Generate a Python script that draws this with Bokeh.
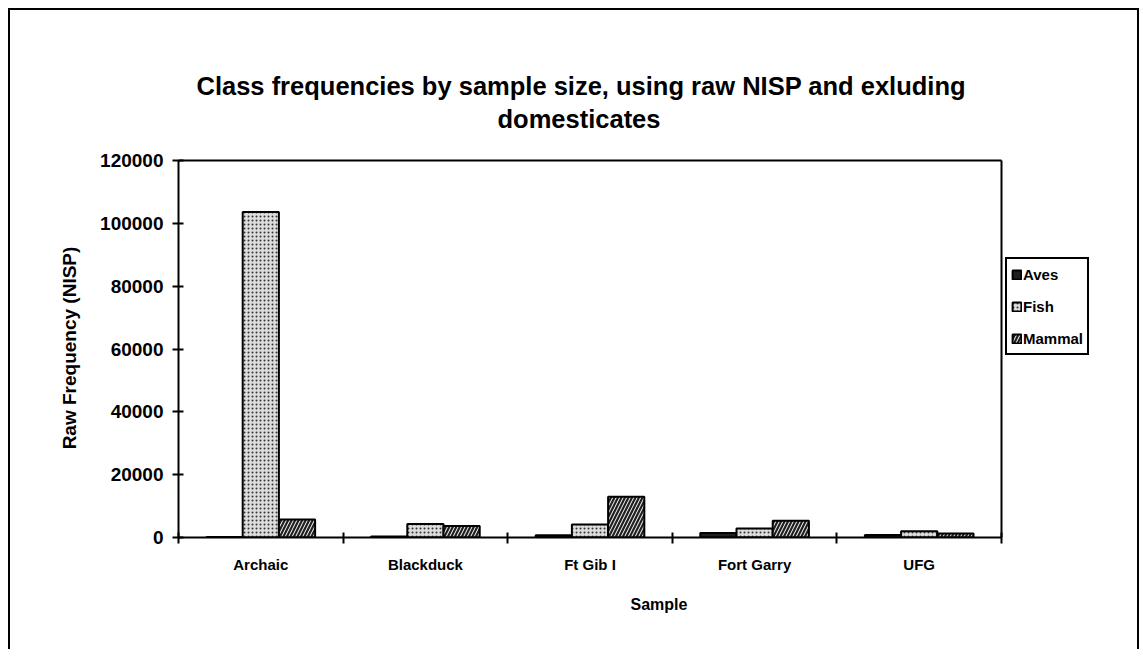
from bokeh.plotting import figure
from bokeh.models import ColumnDataSource, FixedTicker, Legend, LegendItem, Title, Range1d
from bokeh.transform import dodge
from bokeh.embed import file_html
from bokeh.resources import INLINE

samples = ["Archaic", "Blackduck", "Ft Gib I", "Fort Garry", "UFG"]
aves = [150, 300, 700, 1400, 800]
fish = [103600, 4300, 4100, 2900, 2000]
mammal = [5700, 3700, 13000, 5300, 1300]
y_ticks = [0, 20000, 40000, 60000, 80000, 100000, 120000]
y_max = 120000

FONT = "Liberation Sans"

n = len(samples)
xc = [i + 0.5 for i in range(n)]
src = ColumnDataSource(dict(x=xc, aves=aves, fish=fish, mammal=mammal))

W, H = 1131, 641
left, right_pad, top, bottom = 168, 2, 148, 114
plot_px_w = 823          # width of the drawn plot area in px
plot_px_h = 377          # height of the drawn plot area in px
frame_w = W - left - right_pad
frame_h = H - top - bottom
x_end = n * frame_w / plot_px_w
y_end = y_max * frame_h / plot_px_h

p = figure(width=W, height=H, x_range=Range1d(0, x_end), y_range=Range1d(0, y_end),
           output_backend="svg", toolbar_location=None, title=None,
           min_border_left=left, min_border_right=right_pad, min_border_top=top,
           min_border_bottom=bottom)
p.styles = {"margin-left": "8px", "margin-top": "8px",
            "border-top": "2px solid black", "border-left": "2px solid black",
            "border-right": "2px solid black"}

bw = 0.22
r_aves = p.vbar(x=dodge("x", -bw, range=p.x_range), top="aves", width=bw, source=src,
                fill_color="#1e1e1e", line_color="black", line_width=2)
r_fish = p.vbar(x=dodge("x", 0, range=p.x_range), top="fish", width=bw, source=src,
                fill_color="#dcdcdc", line_color="black", line_width=2,
                hatch_pattern="dot", hatch_color="#333333", hatch_scale=4, hatch_weight=1.2)
r_mammal = p.vbar(x=dodge("x", bw, range=p.x_range), top="mammal", width=bw, source=src,
                  fill_color="#202020", line_color="black", line_width=2,
                  hatch_pattern="right_diagonal_line", hatch_color="white", hatch_scale=7,
                  hatch_weight=1.0)

# plot-area border (top and right)
p.segment(x0=[0, n], y0=[y_max, 0], x1=[n, n], y1=[y_max, y_max],
          line_color="black", line_width=2)

p.xgrid.visible = False
p.ygrid.visible = False
p.outline_line_color = None
p.background_fill_color = "white"
p.border_fill_color = "white"

# x axis
xa = p.xaxis[0]
xa.bounds = (0, n)
xa.ticker = FixedTicker(ticks=xc, minor_ticks=list(range(n + 1)))
xa.major_label_overrides = {x: s for x, s in zip(xc, samples)}
xa.major_tick_in = 0
xa.major_tick_out = 0
xa.minor_tick_in = 5
xa.minor_tick_out = 6
xa.minor_tick_line_color = "black"
xa.minor_tick_line_width = 2
xa.axis_line_color = "black"
xa.axis_line_width = 2
xa.major_label_text_font = FONT
xa.major_label_text_font_style = "bold"
xa.major_label_text_font_size = "15px"
xa.major_label_text_color = "black"
xa.major_label_standoff = 12
xa.axis_label = "Sample"
xa.axis_label_text_font = FONT
xa.axis_label_text_font_style = "bold"
xa.axis_label_text_font_size = "16px"
xa.axis_label_text_color = "black"
xa.axis_label_standoff = 20

# y axis
ya = p.yaxis[0]
ya.bounds = (0, y_max)
ya.ticker = FixedTicker(ticks=y_ticks, minor_ticks=[])
ya.major_label_overrides = {t: str(t) for t in y_ticks}
ya.major_tick_in = 5
ya.major_tick_out = 6
ya.major_tick_line_color = "black"
ya.major_tick_line_width = 2
ya.minor_tick_line_color = None
ya.axis_line_color = "black"
ya.axis_line_width = 2
ya.major_label_text_font = FONT
ya.major_label_text_font_style = "bold"
ya.major_label_text_font_size = "19px"
ya.major_label_text_color = "black"
ya.major_label_standoff = 9
ya.axis_label = "Raw Frequency (NISP)"
ya.axis_label_text_font = FONT
ya.axis_label_text_font_style = "bold"
ya.axis_label_text_font_size = "19px"
ya.axis_label_text_color = "black"
ya.axis_label_standoff = 17

# title (two lines, innermost first, with a spacer below them)
spacer = Title(text=" ", text_font_size="1px", standoff=20)
t2 = Title(text="domesticates", align="left", offset=319, text_font=FONT,
           text_font_style="bold", text_font_size="25.5px", text_color="black", standoff=6)
t1 = Title(text="Class frequencies by sample size, using raw NISP and exluding", align="left",
           offset=18, text_font=FONT, text_font_style="bold", text_font_size="25.5px",
           text_color="black", standoff=0)
p.add_layout(spacer, "above")
p.add_layout(t2, "above")
p.add_layout(t1, "above")

legend = Legend(items=[LegendItem(label="Aves", renderers=[r_aves]),
                       LegendItem(label="Fish", renderers=[r_fish]),
                       LegendItem(label="Mammal", renderers=[r_mammal])],
                location=(827, 182), margin=0, padding=4, spacing=10,
                glyph_width=11, glyph_height=11, label_height=22, label_standoff=1,
                label_text_font=FONT, label_text_font_style="bold",
                label_text_font_size="15px", label_text_color="black",
                border_line_color="black", border_line_width=2, border_line_alpha=1,
                background_fill_color="white", background_fill_alpha=1)
p.add_layout(legend, "center")

open("out.html", "w").write(file_html(p, INLINE))
